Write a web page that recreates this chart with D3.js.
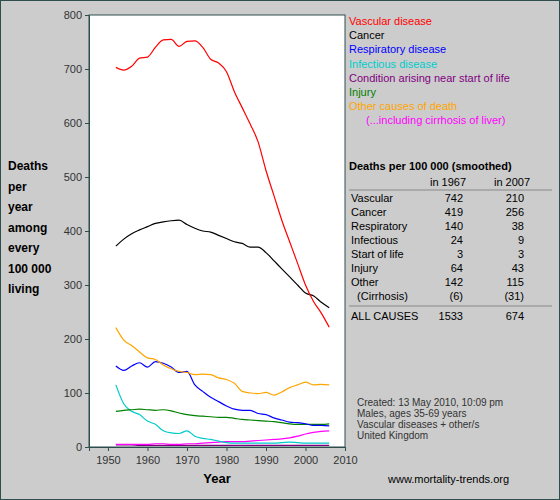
<!DOCTYPE html>
<html><head><meta charset="utf-8">
<script src="https://cdn.jsdelivr.net/npm/d3@7"></script>
<style>body{margin:0;background:#ccc}svg{display:block;font-family:Arial,"Liberation Sans",sans-serif}</style>
</head><body><svg id="c" width="560" height="500"></svg>
<script>
const years = [1952,1954,1956,1958,1960,1962,1964,1966,1968,1970,1972,1974,1976,1978,1980,1982,1984,1986,1988,1990,1992,1994,1996,1998,2000,2002,2004,2006];
const vascular = [703,698,705,720,722,740,754,755,742,751,752,740,718,711,695,658,628,598,565,512,466,420,380,340,300,270,248,222];
const cancer = [372,385,395,402,408,414,417,419,420,412,405,400,398,392,386,380,377,370,370,360,345,330,315,300,285,280,268,258];
const respiratory = [150,142,150,156,148,158,155,148,138,140,115,103,92,84,76,70,68,68,62,60,54,50,46,45,43,40,40,39];
const infectious = [115,80,66,60,48,42,30,26,25,30,20,16,14,11,8,7,7,7,7,7,7,8,9,8,7,7,7,7];
const startOfLife = [4,4,4,3,3,3,3,3,3,3,3,3,3,3,3,3,3,3,3,3,3,3,3,3,3,3,3,3];
const injury = [66,68,69,70,69,68,69,67,63,60,58,57,56,55,55,53,51,50,49,48,47,45,43,42,42,42,42,43];
const other = [221,198,188,176,165,162,152,145,140,138,134,135,134,128,125,118,103,100,99,101,96,102,110,115,120,115,116,115];
const cirrhosis = [5,5,5,5,5,6,6,5,5,6,6,7,8,9,10,10,10,11,12,13,14,15,17,20,24,27,29,30];

const seriesNames = ["Vascular disease","Cancer","Respiratory disease","Infectious disease","Condition arising near start of life","Injury","Other causes of death","(...including cirrhosis of liver)"];
const seriesColors = ["#ff0000","#000000","#0000ff","#00cccc","#800080","#008000","#ffa500","#ff00ff"];
const seriesData = [vascular,cancer,respiratory,infectious,startOfLife,injury,other,cirrhosis];

const tableRows = ["Vascular","Cancer","Respiratory","Infectious","Start of life","Injury","Other","  (Cirrhosis)"];
const val1967 = ["742","419","140","24","3","64","142","(6)"];
const val2007 = ["210","256","38","9","3","43","115","(31)"];
const notes = ["Created: 13 May 2010, 10:09 pm","Males, ages 35-69 years","Vascular diseases + other/s","United Kingdom"];

const svg = d3.select("#c");
svg.append("rect").attr("width",560).attr("height",500).attr("fill","#cccccc").attr("stroke","#2f4f4f").attr("stroke-width",2);

const x = d3.scaleLinear().domain([1945.2,2010]).range([89,345]);
const y = d3.scaleLinear().domain([0,800]).range([447,15]);
svg.append("rect").attr("x",89).attr("y",15).attr("width",256).attr("height",432).attr("fill","#fff");

// draw small ones first, vascular last
[4,7,3,5,2,6,1,0].forEach(i => {
  svg.append("path").datum(seriesData[i]).attr("fill","none")
    .attr("stroke",seriesColors[i]).attr("stroke-width",1.2)
    .attr("d", d3.line().x((d,j)=>x(years[j])).y(d=>y(d)).curve(d3.curveMonotoneX));
});

const axColor = "#2f4f4f";
const xa = svg.append("g").attr("transform","translate(0,447)")
  .call(d3.axisBottom(x).tickValues([1950,1960,1970,1980,1990,2000,2010]).tickFormat(d3.format("d")).tickSize(4).tickPadding(5));
const ya = svg.append("g").attr("transform","translate(89,0)")
  .call(d3.axisLeft(y).tickValues([0,100,200,300,400,500,600,700,800]).tickSize(4));
[xa,ya].forEach(a=>{a.selectAll("path,line").attr("stroke",axColor);a.selectAll("text").attr("fill","#333").attr("font-size",11).attr("font-family","Arial,Liberation Sans");});
svg.append("rect").attr("x",89).attr("y",15).attr("width",256).attr("height",432).attr("fill","none").attr("stroke",axColor);

svg.append("text").attr("x",217).attr("y",483).attr("text-anchor","middle").attr("font-weight","bold").attr("font-size",13).text("Year");
["Deaths","per","year","among","every","100 000","living"].forEach((t,i)=>
  svg.append("text").attr("x",8).attr("y",170+i*20.5).attr("font-weight","bold").attr("font-size",12).text(t));

// legend
seriesNames.forEach((n,i)=>svg.append("text").attr("x",i===7?366:349).attr("y",25+i*14.2).attr("font-size",11).attr("fill",seriesColors[i]).text(n));

// table
svg.append("text").attr("x",349).attr("y",170).attr("font-weight","bold").attr("font-size",11).text("Deaths per 100 000 (smoothed)");
svg.append("text").attr("x",430).attr("y",186).attr("font-size",11).text("in 1967");
svg.append("text").attr("x",494).attr("y",186).attr("font-size",11).text("in 2007");
svg.append("line").attr("x1",349).attr("x2",552).attr("y1",190).attr("y2",190).attr("stroke","#888");
tableRows.forEach((r,i)=>{
  const yy = 202+i*14;
  svg.append("text").attr("x",351).attr("y",yy).attr("font-size",11).attr("xml:space","preserve").text(r);
  svg.append("text").attr("x",463).attr("y",yy).attr("text-anchor","end").attr("font-size",11).text(val1967[i]);
  svg.append("text").attr("x",524).attr("y",yy).attr("text-anchor","end").attr("font-size",11).text(val2007[i]);
});
svg.append("line").attr("x1",349).attr("x2",552).attr("y1",306).attr("y2",306).attr("stroke","#888");
svg.append("text").attr("x",351).attr("y",320).attr("font-size",11).text("ALL CAUSES");
svg.append("text").attr("x",463).attr("y",320).attr("text-anchor","end").attr("font-size",11).text("1533");
svg.append("text").attr("x",524).attr("y",320).attr("text-anchor","end").attr("font-size",11).text("674");

notes.forEach((t,i)=>svg.append("text").attr("x",357).attr("y",406+i*11).attr("font-size",10).attr("fill","#333").text(t));
svg.append("text").attr("x",388).attr("y",483).attr("font-size",11).text("www.mortality-trends.org");
</script></body></html>
